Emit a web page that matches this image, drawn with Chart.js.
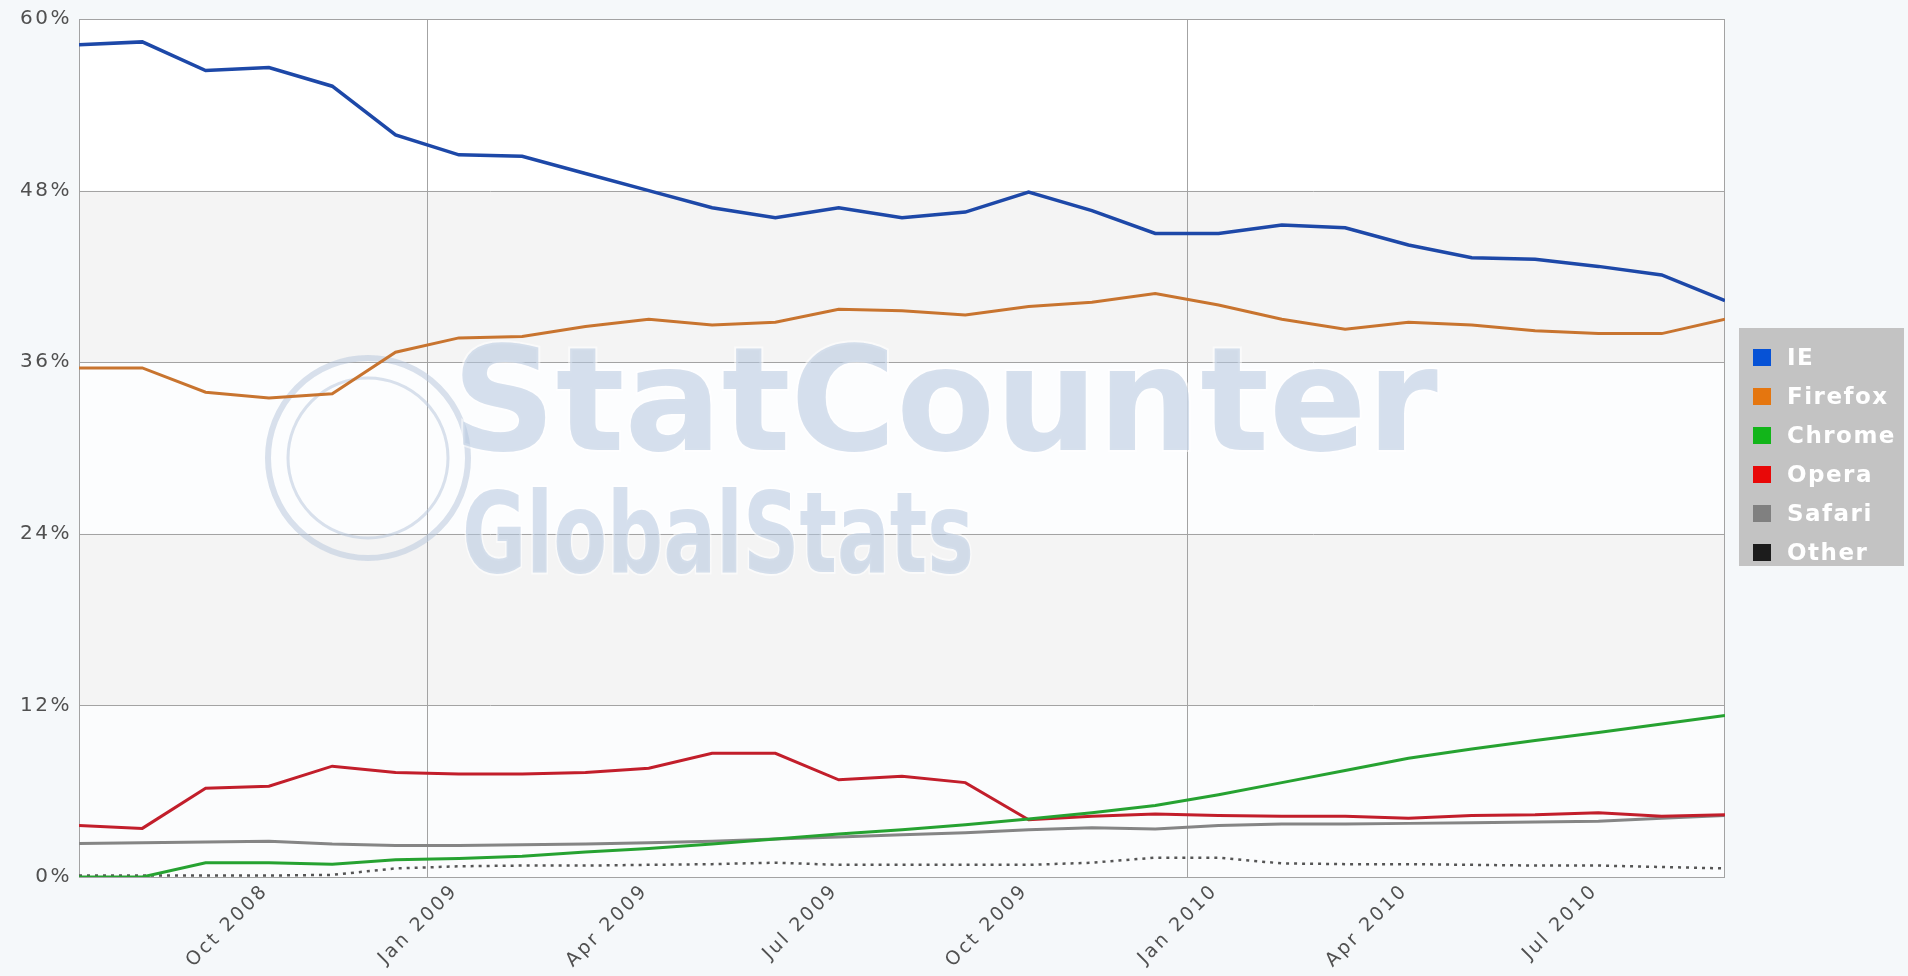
<!DOCTYPE html>
<html>
<head>
<meta charset="utf-8">
<script src="https://cdn.jsdelivr.net/npm/chart.js@4.4.1/dist/chart.umd.min.js"></script>
<style>
  html, body { margin: 0; padding: 0; background: #f5f8fa; overflow: hidden; }
  .wrap { position: relative; width: 1908px; height: 976px; }
  #legend {
    position: absolute; left: 1739px; top: 328px; width: 165px; height: 238px;
    background: #c3c3c3; box-sizing: border-box; padding-top: 10px;
    font-family: "DejaVu Sans", Verdana, sans-serif; font-weight: bold; font-size: 23px;
    color: #fff; letter-spacing: 1.5px;
  }
  #legend div { height: 39px; line-height: 39px; position: relative; padding-left: 48px; }
  #legend span { position: absolute; left: 14px; top: 11px; width: 18px; height: 17px; }
</style>
</head>
<body>
<div class="wrap">
  <canvas id="myChart" width="1908" height="976"></canvas>
  <div id="legend"></div>
</div>
<script>
/* ----------------------------Data------------------------------------*/

const months = ['Jul 2008','Aug 2008','Sep 2008','Oct 2008','Nov 2008','Dec 2008',
    'Jan 2009','Feb 2009','Mar 2009','Apr 2009','May 2009','Jun 2009','Jul 2009','Aug 2009','Sep 2009',
    'Oct 2009','Nov 2009','Dec 2009','Jan 2010','Feb 2010','Mar 2010','Apr 2010','May 2010','Jun 2010',
    'Jul 2010','Aug 2010','Sep 2010'];

const ie      = [58.2,58.4,56.4,56.6,55.3,51.9,50.5,50.4,49.2,48.0,46.8,46.1,46.8,46.1,46.5,47.9,46.6,45.0,45.0,45.6,45.4,44.2,43.3,43.2,42.7,42.1,40.3];
const firefox = [35.6,35.6,33.9,33.5,33.8,36.7,37.7,37.8,38.5,39.0,38.6,38.8,39.7,39.6,39.3,39.9,40.2,40.8,40.0,39.0,38.3,38.8,38.6,38.2,38.0,38.0,39.0];
const chrome  = [0,0,1.0,1.0,0.9,1.2,1.3,1.45,1.75,2.0,2.3,2.65,3.0,3.3,3.65,4.05,4.5,5.0,5.75,6.6,7.45,8.3,8.95,9.55,10.1,10.7,11.3];
const opera   = [3.6,3.4,6.2,6.35,7.75,7.3,7.2,7.2,7.3,7.6,8.65,8.65,6.8,7.05,6.6,4.0,4.25,4.4,4.3,4.25,4.25,4.1,4.3,4.35,4.5,4.25,4.35];
const safari  = [2.35,2.4,2.45,2.5,2.3,2.2,2.2,2.25,2.3,2.4,2.5,2.65,2.8,2.95,3.1,3.3,3.45,3.35,3.6,3.7,3.7,3.75,3.8,3.85,3.9,4.1,4.3];
const other   = [0.1,0.1,0.1,0.1,0.15,0.6,0.75,0.8,0.8,0.85,0.9,1.0,0.85,0.85,0.85,0.85,1.0,1.35,1.35,0.95,0.9,0.9,0.85,0.8,0.8,0.7,0.6];

// x ticks fall between the mid-month points
const xTickPos    = [2.5,5.5,8.5,11.5,14.5,17.5,20.5,23.5];
const xTickLabels = ['Oct 2008','Jan 2009','Apr 2009','Jul 2009','Oct 2009','Jan 2010','Apr 2010','Jul 2010'];
const yearLines   = [5.5,17.5];
const yTicks      = [0,12,24,36,48,60];

const series = [
    { name: 'IE',      data: ie,      line: '#1d48a8', swatch: '#0652d6', width: 3.5 },
    { name: 'Firefox', data: firefox, line: '#c8742f', swatch: '#e5760f', width: 3 },
    { name: 'Chrome',  data: chrome,  line: '#26a231', swatch: '#12b51a', width: 3 },
    { name: 'Opera',   data: opera,   line: '#c21e2b', swatch: '#e80808', width: 3 },
    { name: 'Safari',  data: safari,  line: '#858585', swatch: '#808080', width: 3 },
    { name: 'Other',   data: other,   line: '#555555', swatch: '#1c1c1c', width: 2.5, dash: [3,5] }
];

/* ----------------------------Legend------------------------------------*/

let legend = document.getElementById('legend');
series.forEach((s) => {
    let row = document.createElement('div');
    row.innerHTML = '<span style="background:' + s.swatch + '"></span>' + s.name;
    legend.appendChild(row);
});

/* ----------------------------Plugins------------------------------------*/

const spacing = {
    id: 'spacing',
    beforeLayout(chart) { chart.ctx.letterSpacing = '2.5px'; },
    beforeDraw(chart) { chart.ctx.letterSpacing = '2.5px'; }
};

// alternating bands, watermark, frame
const background = {
    id: 'background',
    beforeDatasetsDraw(chart) {
        const { ctx, chartArea: a, scales: { y } } = chart;
        const bands = ['#fbfcfd', '#f4f4f4', '#fcfdfe', '#f4f4f4', '#ffffff'];
        ctx.save();
        for (let i = 0; i < 5; i++) {
            let top = y.getPixelForValue(yTicks[i + 1]);
            let bottom = y.getPixelForValue(yTicks[i]);
            ctx.fillStyle = bands[i];
            ctx.fillRect(a.left, top, a.right - a.left, bottom - top);
        }
        // grid lines again over the bands
        ctx.strokeStyle = '#a3a3a3';
        ctx.lineWidth = 1;
        yTicks.forEach((v) => {
            let py = Math.round(y.getPixelForValue(v)) + 0.5;
            ctx.beginPath(); ctx.moveTo(a.left, py); ctx.lineTo(a.right, py); ctx.stroke();
        });
        yearLines.forEach((v) => {
            let px = Math.round(chart.scales.x.getPixelForValue(v)) + 0.5;
            ctx.beginPath(); ctx.moveTo(px, a.top); ctx.lineTo(px, a.bottom); ctx.stroke();
        });
        ctx.strokeRect(a.left + 0.5, a.top + 0.5, a.right - a.left - 1, a.bottom - a.top);

        // watermark
        ctx.letterSpacing = '0px';
        ctx.globalAlpha = 0.55;
        ctx.strokeStyle = '#b9c9dd';
        ctx.lineWidth = 6;
        ctx.beginPath(); ctx.arc(368, 458, 100, 0, Math.PI * 2); ctx.stroke();
        ctx.lineWidth = 3;
        ctx.beginPath(); ctx.arc(368, 458, 80, 0, Math.PI * 2); ctx.stroke();
        ctx.fillStyle = '#b5c7df';
        ctx.strokeStyle = '#ffffff';
        ctx.lineWidth = 4;
        ctx.font = 'bold 144px "DejaVu Sans"';
        ctx.textBaseline = 'alphabetic';
        ctx.strokeText('StatCounter', 452, 450, 1005);
        ctx.fillText('StatCounter', 452, 450, 1005);
        ctx.font = 'bold 112px "DejaVu Sans"';
        ctx.strokeText('GlobalStats', 462, 572, 512);
        ctx.fillText('GlobalStats', 462, 572, 512);
        ctx.restore();
    }
};

/* ----------------------------Graph------------------------------------*/

const ctx = document.getElementById('myChart').getContext('2d');
const myChart = new Chart(ctx, {
    type: 'line',
    data: {
        datasets: series.map((s) => ({
            label: s.name,
            data: s.data.map((v, i) => ({ x: i, y: v })),
            borderColor: s.line,
            borderWidth: s.width,
            borderDash: s.dash || [],
            pointRadius: 0,
            tension: 0,
            fill: false
        }))
    },
    options: {
        responsive: false,
        animation: false,
        layout: { padding: { top: 17, right: 183, left: 0, bottom: 0 } },
        plugins: { legend: { display: false }, tooltip: { enabled: false } },
        scales: {
            x: {
                type: 'linear',
                min: 0,
                max: months.length - 1,
                afterBuildTicks: (scale) => { scale.ticks = xTickPos.map((v) => ({ value: v })); },
                afterFit: (scale) => { scale.height = 99; },
                grid: { display: false, drawTicks: false },
                border: { display: false },
                ticks: {
                    autoSkip: false,
                    minRotation: 45,
                    maxRotation: 45,
                    padding: 3,
                    labelOffset: 28,
                    color: '#505050',
                    font: { family: 'DejaVu Sans', size: 19 },
                    callback: (v, i) => xTickLabels[i]
                }
            },
            y: {
                min: 0,
                max: 60,
                afterBuildTicks: (scale) => { scale.ticks = yTicks.map((v) => ({ value: v })); },
                afterFit: (scale) => { scale.width = 79; },
                grid: { display: false, drawTicks: false },
                border: { display: false },
                ticks: {
                    padding: 7,
                    color: '#505050',
                    font: { family: 'DejaVu Sans', size: 20 },
                    callback: (v) => v + '%'
                }
            }
        }
    },
    plugins: [spacing, background]
});
</script>
</body>
</html>
